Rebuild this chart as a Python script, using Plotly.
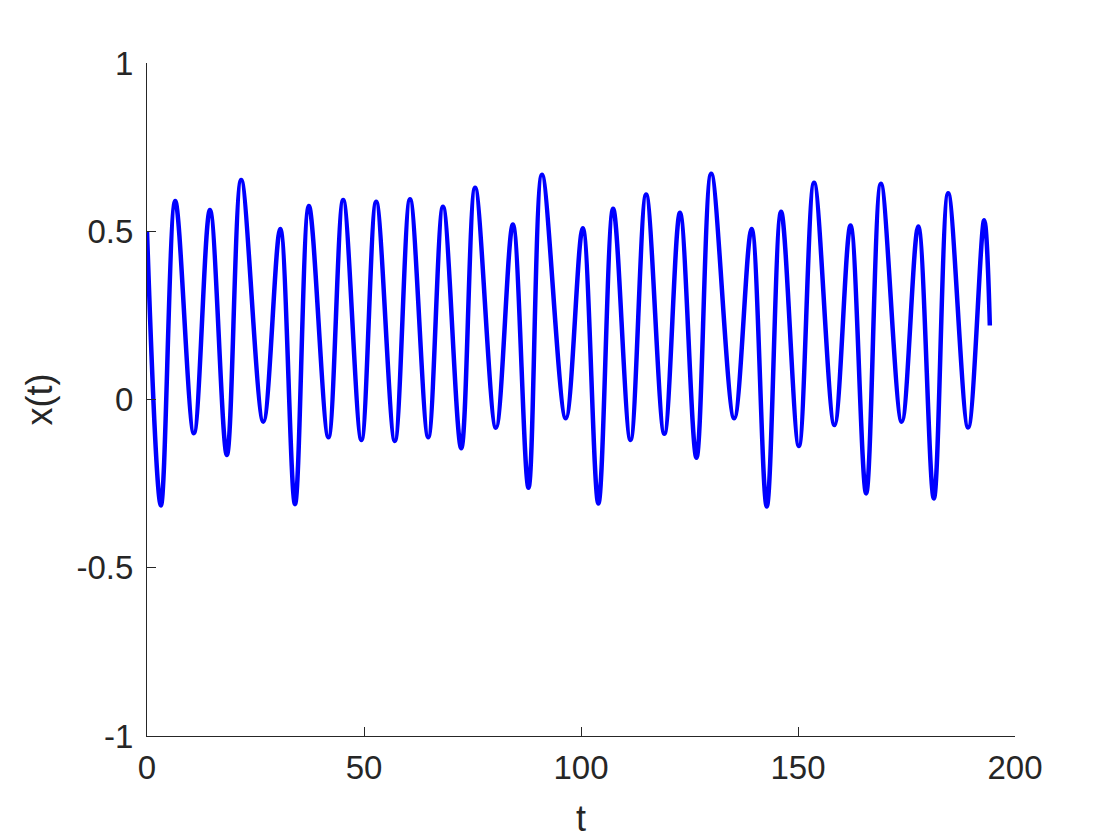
import plotly.graph_objects as go

# turning points of x(t), plus start and end
t_vals = [
    0, 3.2, 6.5, 10.8, 14.5, 18.4, 21.7, 26.8, 30.7, 34.1,
    37.3, 41.8, 45.2, 49.4, 52.8, 57.1, 60.6, 64.8, 68.2, 72.4,
    75.6, 80.4, 84.3, 87.9, 91.0, 96.5, 100.4, 104.0, 107.4, 111.4,
    115.0, 119.2, 122.8, 126.6, 130.0, 135.3, 139.3, 142.8, 146.1, 150.2,
    153.7, 158.4, 162.1, 165.7, 169.1, 173.9, 177.7, 181.3, 184.6, 189.2,
    192.9, 194.2,
]
x_vals = [
    0.50, -0.315, 0.590, -0.100, 0.563, -0.165, 0.652, -0.066, 0.507, -0.311,
    0.575, -0.112, 0.593, -0.120, 0.588, -0.123, 0.595, -0.112, 0.573, -0.145,
    0.629, -0.084, 0.520, -0.262, 0.668, -0.056, 0.509, -0.309, 0.567, -0.120,
    0.609, -0.102, 0.555, -0.173, 0.671, -0.056, 0.507, -0.318, 0.558, -0.138,
    0.644, -0.076, 0.517, -0.279, 0.641, -0.066, 0.514, -0.294, 0.613, -0.083,
    0.533, 0.22,
]

x_ticks = [0, 50, 100, 150, 200]
y_ticks = [-1, -0.5, 0, 0.5, 1]
y_tick_text = ["-1", "-0.5", "0", "0.5", "1"]

axis_col = "#262626"
font_family = "Liberation Sans, Arial, Helvetica, sans-serif"

fig = go.Figure()
fig.add_trace(
    go.Scatter(
        x=t_vals,
        y=x_vals,
        mode="lines",
        line=dict(color="rgb(0,0,255)", width=4.5, shape="spline", smoothing=1),
        showlegend=False,
    )
)

fig.update_layout(
    width=1120,
    height=840,
    margin=dict(l=139, r=113, t=55, b=112),
    paper_bgcolor="white",
    plot_bgcolor="white",
    font=dict(family=font_family, color=axis_col),
    xaxis=dict(
        range=[0, 200],
        tickvals=x_ticks,
        ticks="inside",
        ticklen=9,
        tickcolor=axis_col,
        showline=True,
        linecolor=axis_col,
        linewidth=1,
        showgrid=False,
        zeroline=False,
        ticklabelstandoff=2,
        tickfont=dict(size=33, color=axis_col),
        title=dict(text="t", font=dict(size=36, color=axis_col), standoff=21),
    ),
    yaxis=dict(
        range=[-1, 1],
        tickvals=y_ticks,
        ticktext=y_tick_text,
        ticks="inside",
        ticklen=9,
        tickcolor=axis_col,
        showline=True,
        linecolor=axis_col,
        linewidth=1,
        showgrid=False,
        zeroline=False,
        ticklabelstandoff=6,
        tickfont=dict(size=33, color=axis_col),
        title=dict(text="x(t)", font=dict(size=36, color=axis_col), standoff=12),
    ),
)

fig.write_html("out.html")
